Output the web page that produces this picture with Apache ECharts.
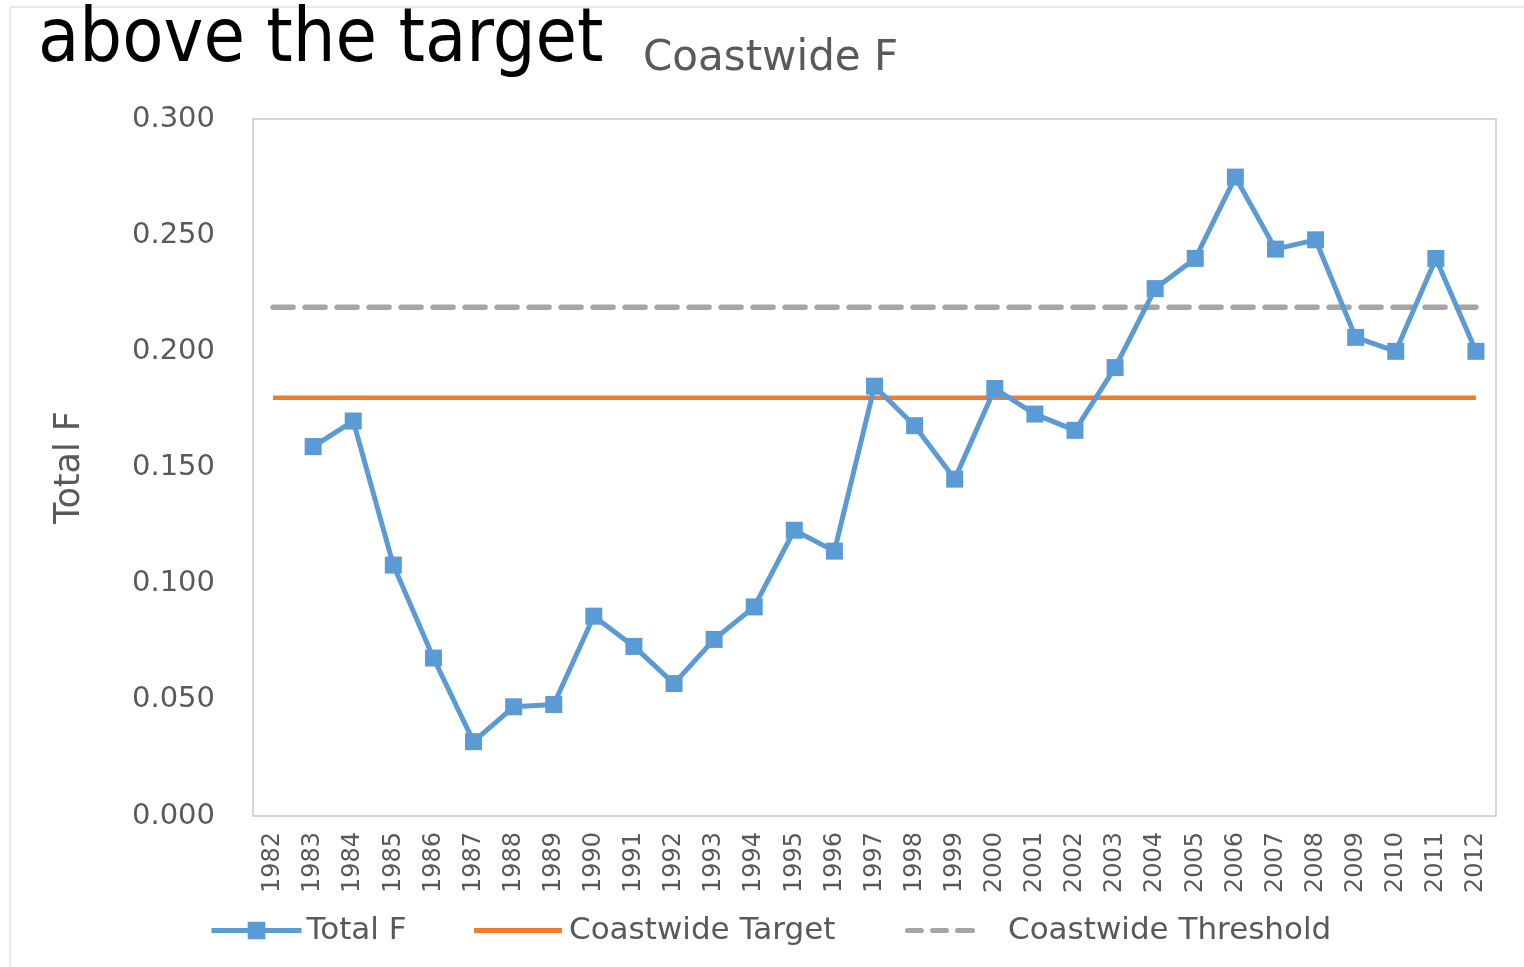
<!DOCTYPE html>
<html><head><meta charset="utf-8">
<script src="https://cdn.jsdelivr.net/npm/echarts@6/dist/echarts.min.js"></script>
<style>html,body{margin:0;padding:0;background:#fff}#c{width:1524px;height:967px}</style>
</head><body><div id="c"></div>
<script>
const years = ['1982','1983','1984','1985','1986','1987','1988','1989','1990','1991','1992','1993','1994','1995','1996','1997','1998','1999','2000','2001','2002','2003','2004','2005','2006','2007','2008','2009','2010','2011','2012'];
const totalF = [null,0.159,0.170,0.108,0.068,0.032,0.047,0.048,0.086,0.073,0.057,0.076,0.090,0.123,0.114,0.185,0.168,0.145,0.184,0.173,0.166,0.193,0.227,0.240,0.275,0.244,0.248,0.206,0.200,0.240,0.200];
const targetValue = 0.18;
const thresholdValue = 0.219;
const target = years.map(() => targetValue);
const threshold = years.map(() => thresholdValue);
const yTicks = [0, 0.05, 0.10, 0.15, 0.20, 0.25, 0.30];

const chart = echarts.init(document.getElementById('c'));
const grey = '#595959';
const legendText = {fontFamily:'DejaVu Sans', fontSize:31, color:grey};
const dashIcon = 'path://M2.5,0H16.5A2.5,2.5 0 0 1 16.5,5H2.5A2.5,2.5 0 0 1 2.5,0Z M27.5,0H41.5A2.5,2.5 0 0 1 41.5,5H27.5A2.5,2.5 0 0 1 27.5,0Z M52.5,0H67.5A2.5,2.5 0 0 1 67.5,5H52.5A2.5,2.5 0 0 1 52.5,0Z';
chart.setOption({
  animation: false,
  backgroundColor: '#fff',
  graphic: [
    {type:'rect', shape:{x:10,y:7,width:1530,height:990}, style:{fill:'none', stroke:'#d4d4d4', lineWidth:1}},
    {type:'text', left:38, top:4, style:{text:'above the target', font:'75px "DejaVu Sans Condensed","DejaVu Sans"', fill:'#000'}},
    {type:'text', left:643, top:38, style:{text:'Coastwide F', font:'42px "DejaVu Sans"', fill:grey}}
  ],
  grid: {left:253, right:28, top:119, bottom:151, show:true, borderColor:'#c8c8c8', borderWidth:1.5, containLabel:false},
  legend: [
    {left:209, top:915, padding:0, itemWidth:90, itemHeight:22, textStyle:legendText,
      data:[{name:'Total F', lineStyle:{width:5}}]},
    {left:474, top:915, padding:0, itemWidth:88, itemHeight:22, textStyle:Object.assign({padding:[0,0,0,2]}, legendText),
      data:[{name:'Coastwide Target', icon:'path://M0,0H88V5H0Z'}]},
    {left:905, top:915, padding:0, itemWidth:70, itemHeight:22, textStyle:Object.assign({padding:[0,0,0,28]}, legendText),
      data:[{name:'Coastwide Threshold', icon:dashIcon}]}
  ],
  xAxis: {
    type:'category', data: years, boundaryGap: true,
    axisLine:{show:false}, axisTick:{show:false},
    axisLabel:{rotate:90, interval:0, fontFamily:'DejaVu Sans', fontSize:24, color:grey, margin:16}
  },
  yAxis: {
    type:'value', min:0, max:0.3, interval:0.05,
    name:'Total F', nameLocation:'middle', nameGap:166, nameRotate:90,
    nameTextStyle:{fontFamily:'DejaVu Sans', fontSize:35, color:grey},
    axisLine:{show:false}, axisTick:{show:false}, splitLine:{show:false},
    axisLabel:{fontFamily:'DejaVu Sans', fontSize:29, color:grey, margin:38,
      formatter: v => { const t = yTicks.find(x => Math.abs(x - v) < 1e-9); return (t !== undefined ? t : v).toFixed(3); }}
  },
  series: [
    {name:'Total F', type:'line', data: totalF, symbol:'rect', symbolSize:17, connectNulls:false,
      lineStyle:{color:'#5B9BD5', width:5}, itemStyle:{color:'#5B9BD5'}, z:5},
    {name:'Coastwide Target', type:'line', data: target, symbol:'none',
      lineStyle:{color:'#ED7D31', width:4.5}, itemStyle:{color:'#ED7D31'}, z:3},
    {name:'Coastwide Threshold', type:'line', data: threshold, symbol:'none',
      lineStyle:{color:'#A5A5A5', width:5.5, type:[20,12], cap:'round'}, itemStyle:{color:'#A5A5A5'}, z:2}
  ]
});
</script></body></html>
